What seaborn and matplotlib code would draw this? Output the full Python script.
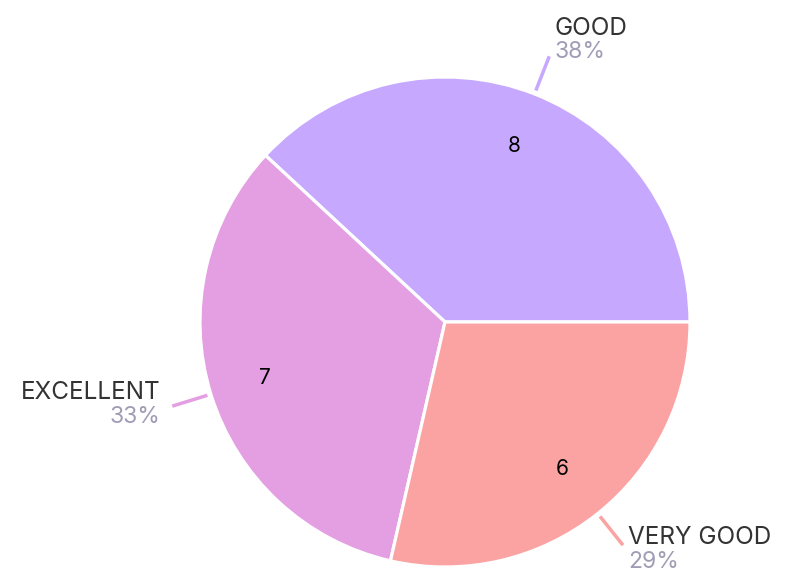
# -*- coding: utf-8 -*-
# Pie chart of ratings: GOOD / EXCELLENT / VERY GOOD
import numpy as np
import seaborn as sns
import matplotlib.pyplot as plt

sns.set_theme(style="white")
plt.rcParams['font.family'] = ['Inter', 'DejaVu Sans']

# %% data
labels = ["GOOD", "EXCELLENT", "VERY GOOD"]
counts = [8, 7, 6]
colors = sns.color_palette(["#C7A8FF", "#E39FE2", "#FBA2A2"])

total = sum(counts)
pcts = [round(100 * c / total) for c in counts]

# %% plot
W, H = 787, 573
R = 245.0            # pie radius in px
cx, cy = 445, 322    # pie centre in px
fig = plt.figure(figsize=(W / 100, H / 100), dpi=100)
ax = fig.add_axes([0, 0, 1, 1])

wedges, _, autotexts = ax.pie(
    counts, colors=colors, startangle=0, counterclock=True,
    autopct=lambda p: f"{round(p * total / 100)}", pctdistance=0.77,
    wedgeprops=dict(edgecolor="white", linewidth=2.3),
    textprops=dict(fontsize=15, color="black"),
)

ax.set_xlim(-cx / R, (W - cx) / R)
ax.set_ylim(-(H - cy) / R, cy / R)
ax.set_aspect("auto")
ax.axis("off")

# outside labels with leader lines
for w, name, pct, col in zip(wedges, labels, pcts, colors):
    ang = np.deg2rad((w.theta1 + w.theta2) / 2)
    ca, sa = np.cos(ang), np.sin(ang)
    ax.plot([1.015 * ca, 1.165 * ca], [1.015 * sa, 1.165 * sa],
            color=col, lw=2.5, solid_capstyle="butt")
    ex, ey = 1.165 * ca, 1.165 * sa
    ha = "left" if ca > 0 else "right"
    dx = (5 if ca > 0 else -12) / R
    mid = ey + (12 * sa + 5) / R
    ax.text(ex + dx, mid + 12 / R, name, ha=ha, va="center", fontsize=17.5,
            color="#333333")
    ax.text(ex + dx, mid - 12 / R, f"{pct}%", ha=ha, va="center",
            fontsize=16.5, color="#A09CB5")

plt.savefig("out.png", dpi=100)
